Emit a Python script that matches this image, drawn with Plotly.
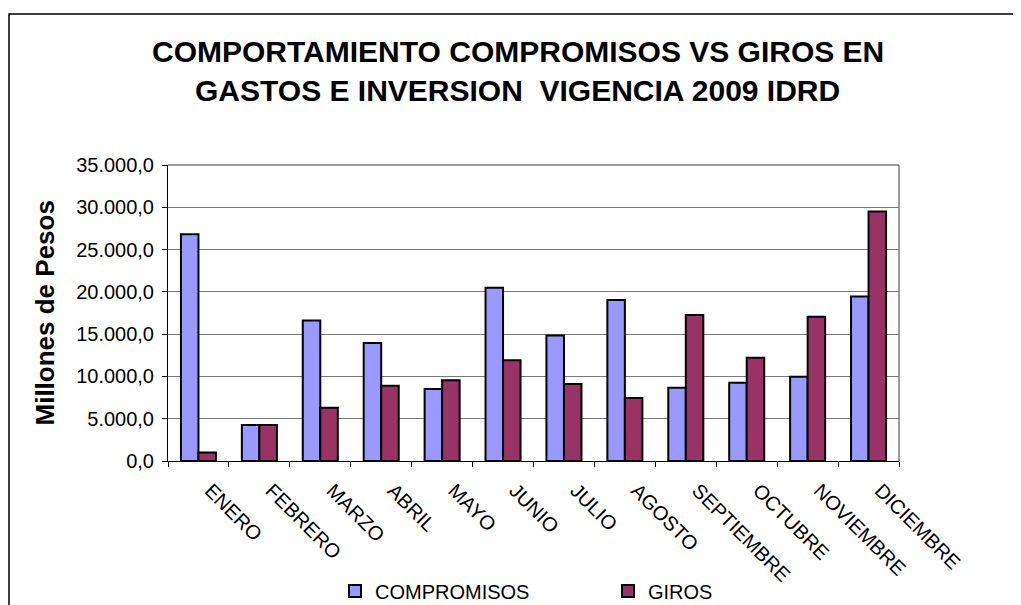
import plotly.graph_objects as go

meses = ["ENERO", "FEBRERO", "MARZO", "ABRIL", "MAYO", "JUNIO", "JULIO",
         "AGOSTO", "SEPTIEMBRE", "OCTUBRE", "NOVIEMBRE", "DICIEMBRE"]
compromisos = [26800, 4250, 16600, 13950, 8500, 20500, 14850, 19050, 8650, 9250, 9950, 19450]
giros = [1000, 4250, 6300, 8900, 9550, 11900, 9100, 7450, 17250, 12200, 17050, 29500]
y_ticks = [0, 5000, 10000, 15000, 20000, 25000, 30000, 35000]

# the page body adds an 8px offset; layout is expressed in screen pixels
OFF = 8
W, H = 1021 - OFF, 605 - OFF
PL, PR, PT, PB = 168, 899, 165, 461          # plot area in screen pixels
L, T = PL - OFF, PT - OFF
R, B = W - (PR - OFF), H - (PB - OFF)
pw, ph = PR - PL, PB - PT


def px(x):
    return (x - PL) / pw


def py(y):
    return (PB - y) / ph


fig = go.Figure()
fig.add_trace(go.Bar(name="COMPROMISOS", x=meses, y=compromisos,
                     marker=dict(color="#9999FF", line=dict(color="black", width=2))))
fig.add_trace(go.Bar(name="GIROS", x=meses, y=giros,
                     marker=dict(color="#993366", line=dict(color="black", width=2))))

font = "Liberation Sans, Arial, sans-serif"

fig.update_layout(
    width=W, height=H,
    margin=dict(l=L, r=R, t=T, b=B, pad=0, autoexpand=False),
    paper_bgcolor="white", plot_bgcolor="white",
    barmode="group", bargap=0.425, bargroupgap=0,
    separators=",.",
    font=dict(family=font, color="black", size=20),
    showlegend=True,
    legend=dict(orientation="h", x=px(335), xanchor="left",
                y=py(591), yanchor="middle",
                font=dict(size=20, family=font), itemwidth=30,
                entrywidth=228, bgcolor="rgba(0,0,0,0)", tracegroupgap=0),
    xaxis=dict(type="category", showline=True, linecolor="black", linewidth=1,
               ticks="outside", ticklen=5, tickcolor="black", tickson="boundaries",
               tickangle=45, tickfont=dict(size=20, family=font),
               ticklabelstandoff=9, ticklabelshift=12, showgrid=False, automargin=False),
    yaxis=dict(range=[0, 35000], tickvals=y_ticks, tickformat=",.1f",
               showline=True, linecolor="black", linewidth=1,
               ticks="outside", ticklen=5, tickcolor="black",
               showgrid=True, gridcolor="#7a7a7a", gridwidth=1, zeroline=False,
               tickfont=dict(size=20, family=font), ticklabelstandoff=4, automargin=False),
)

# title lines
fig.add_annotation(text="COMPORTAMIENTO COMPROMISOS VS GIROS EN", xref="paper", yref="paper",
                   x=px(517.5), y=py(51), xanchor="center", yanchor="middle",
                   showarrow=False, font=dict(size=30, family=font, color="black", weight="bold"))
fig.add_annotation(text="GASTOS E INVERSION  VIGENCIA 2009 IDRD", xref="paper", yref="paper",
                   x=px(517.5), y=py(90.5), xanchor="center", yanchor="middle",
                   showarrow=False, font=dict(size=30, family=font, color="black", weight="bold"))
# y axis title
fig.add_annotation(text="Millones de Pesos", xref="paper", yref="paper",
                   x=px(44), y=py(313.5), xanchor="center", yanchor="middle", textangle=-90,
                   showarrow=False, font=dict(size=26, family=font, color="black", weight="bold"))

# plot area border (top / right in gray)
fig.add_shape(type="line", xref="paper", yref="paper", x0=0, x1=1, y0=1, y1=1,
              line=dict(color="#7a7a7a", width=1.5))
fig.add_shape(type="line", xref="paper", yref="paper", x0=1, x1=1, y0=0, y1=1,
              line=dict(color="#7a7a7a", width=1.5))
# chart frame
fig.add_shape(type="rect", xref="paper", yref="paper",
              x0=px(9), x1=px(1021 + 30), y0=py(605 + 30), y1=py(14),
              line=dict(color="black", width=1.5), layer="below")

fig.write_html("out.html")
